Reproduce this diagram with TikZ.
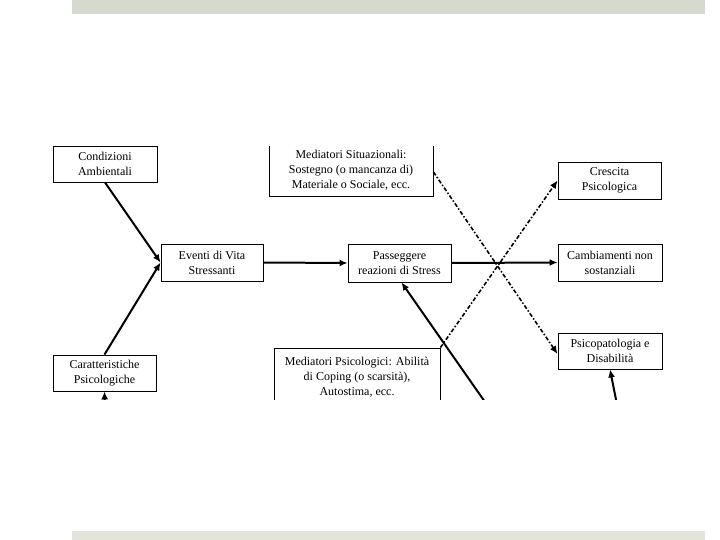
\documentclass[tikz,border=0pt]{standalone}
\usepackage{fontspec}
\setmainfont{Liberation Serif}
\usetikzlibrary{arrows.meta}
\definecolor{bartop}{HTML}{D6D9CD}
\definecolor{barbottom}{HTML}{E3E4DB}

\begin{document}
\begin{tikzpicture}[x=1pt, y=-1pt,
  box/.style={draw, line width=0.9pt, align=center, inner sep=0pt,
    font=\fontsize{12}{15}\selectfont},
  link/.style={line width=2pt, -{Latex[length=8pt,width=7pt]}},
  dashlink/.style={line width=1.6pt, dash pattern=on 4pt off 2pt on 1.5pt off 2pt,
    -{Latex[length=8pt,width=7pt]}}]
\useasboundingbox (0,0) rectangle (720,540);
\fill[bartop] (72,0) rectangle (705,14);
\fill[barbottom] (72,531) rectangle (705,540);

\begin{scope}
\clip (0,147) rectangle (720,399);
% sources
\node [box, minimum width=104pt, minimum height=36pt] (cond) at (105,164) {Condizioni\\Ambientali};
\node [box, minimum width=103pt, minimum height=36pt] (caratt) at (104.5,373) {Caratteristiche\\Psicologiche};
\node [box, minimum width=102pt, minimum height=37pt] (eventi) at (212,262.5) {Eventi di Vita\\Stressanti};
\node [box, minimum width=103pt, minimum height=38pt] (pass) at (399.5,263) {Passeggere\\reazioni di Stress};
% mediators
\node [box, minimum width=164pt, minimum height=52pt] (medsit) at (351,170)
  {Mediatori Situazionali:\\Sostegno (o mancanza di)\\Materiale o Sociale, ecc.};
\node [box, minimum width=166pt, minimum height=58pt] (medpsi) at (357,377)
  {Mediatori Psicologici: Abilità\\di Coping (o scarsità),\\Autostima, ecc.};
% outcomes
\node [box, minimum width=103pt, minimum height=37pt] (cresc) at (609.5,180.5) {Crescita\\Psicologica};
\node [box, minimum width=104pt, minimum height=37pt] (camb) at (610,262.5) {Cambiamenti non\\sostanziali};
\node [box, minimum width=104pt, minimum height=36pt] (psico) at (610,351) {Psicopatologia e\\Disabilità};

\coordinate (inA) at (105,412);
\coordinate (inB) at (492,412);
\coordinate (inC) at (618.5,412);

\draw [link] (cond.south) -- (eventi.west);
\draw [link] (caratt.north) -- (eventi.west);
\draw [link] (eventi.east) -- (pass.west);
\draw [link] (pass.east) -- (camb.west);
\draw [dashlink] ([yshift=-2pt]medsit.east) -- ([yshift=-3pt]psico.west);
\draw [dashlink] (medpsi.north east) -- (cresc.west);
\draw [link] (inA) -- (caratt.south);
\draw [link] (inB) -- ([xshift=2pt]pass.south);
\draw [link] (inC) -- (psico.south);
\end{scope}
\end{tikzpicture}
\end{document}
